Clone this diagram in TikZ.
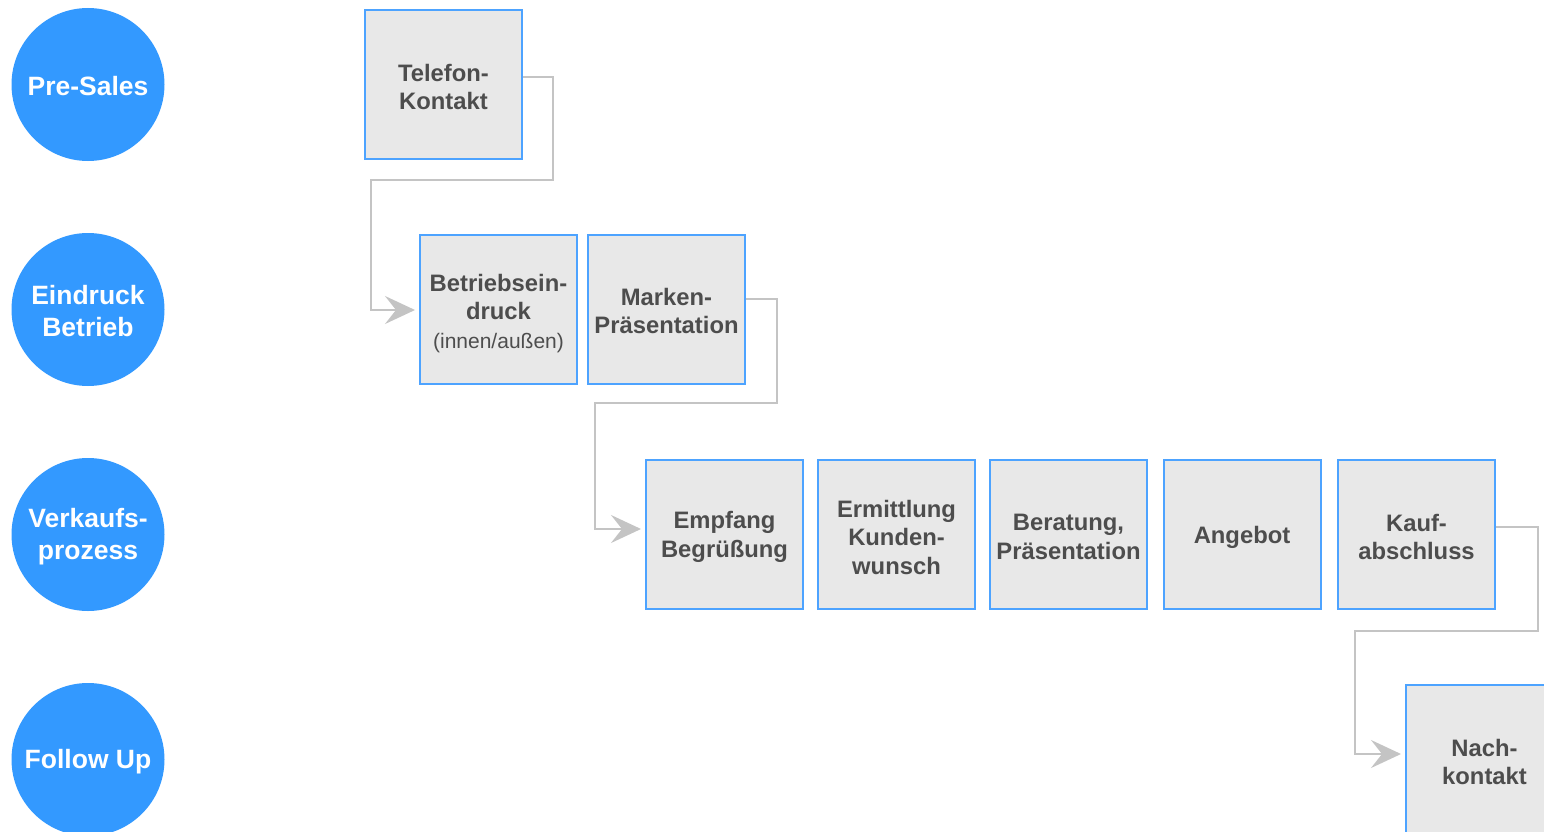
\documentclass[tikz,border=0pt]{standalone}
\usepackage{fontspec}
\setmainfont{Liberation Sans}
\usetikzlibrary{arrows.meta,calc}
\definecolor{cblue}{HTML}{3399FF}
\definecolor{bblue}{HTML}{4DA3FF}
\definecolor{bfill}{HTML}{E8E8E8}
\definecolor{tgray}{HTML}{4D4D4D}
\definecolor{lgray}{HTML}{C4C4C4}
\tikzset{
  phase/.style={circle, fill=cblue, draw=none, minimum size=153pt, inner sep=0pt},
  phasetext/.style={text=white, align=center, inner sep=0pt, yshift=-2pt,
    font=\fontsize{26.5}{32}\selectfont\bfseries},
  stepbox/.style={rectangle, fill=bfill, draw=bblue, line width=2pt, minimum width=157pt, minimum height=149pt,
    inner sep=0pt},
  boxtext/.style={text=tgray, align=center, inner sep=0pt, yshift=-2.5pt,
    font=\fontsize{23.8}{28.5}\selectfont\bfseries},
  conn/.style={draw=lgray, line width=2pt, -{Stealth[length=30pt,width=28pt,inset=11pt]}, shorten >=4pt}
}
\begin{document}
\begin{tikzpicture}[x=1pt,y=-1pt]
\useasboundingbox (0,0) rectangle (1544,832);
% phases
\node[phase, label={[phasetext]center:Pre-Sales}] (c1) at (88,84.5) {};
\node[phase, label={[phasetext]center:Eindruck\\Betrieb}] (c2) at (88,309.5) {};
\node[phase, label={[phasetext]center:Verkaufs-\\prozess}] (c3) at (88,534.5) {};
\node[phase, label={[phasetext]center:Follow Up}] (c4) at (88,759.5) {};
% boxes
\node[stepbox, label={[boxtext]center:Telefon-\\Kontakt}] (tel) at (443.5,84.5) {};
\node[stepbox, label={[boxtext, yshift=-1.5pt]center:Betriebsein-\\druck\\{\fontsize{21}{28.5}\selectfont\mdseries (innen/außen)}}] (bet) at (498.5,309.5) {};
\node[stepbox, label={[boxtext, yshift=1pt]center:Marken-\\Präsentation}] (mar) at (666.5,309.5) {};
\node[stepbox, label={[boxtext]center:Empfang\\Begrüßung}] (emp) at (724.5,534.5) {};
\node[stepbox, label={[boxtext]center:Ermittlung\\Kunden-\\wunsch}] (erm) at (896.5,534.5) {};
\node[stepbox, label={[boxtext]center:Beratung,\\Präsentation}] (ber) at (1068.5,534.5) {};
\node[stepbox, label={[boxtext]center:Angebot}] (ang) at (1242,534.5) {};
\node[stepbox, label={[boxtext]center:Kauf-\\abschluss}] (kau) at (1416.5,534.5) {};
\node[stepbox, label={[boxtext]center:Nach-\\kontakt}] (nac) at (1484.5,759.5) {};
% connectors
\coordinate (a1) at (553,77);
\coordinate (a2) at (553,180);
\coordinate (a3) at (371,180);
\coordinate (a4) at (371,310);
\draw[conn] (tel.east |- a1) -- (a1) -- (a2) -- (a3) -- (a4) -- (bet.west |- a4);
\coordinate (b1) at (777,299);
\coordinate (b2) at (777,403);
\coordinate (b3) at (595,403);
\coordinate (b4) at (595,529);
\draw[conn] (mar.east |- b1) -- (b1) -- (b2) -- (b3) -- (b4) -- (emp.west |- b4);
\coordinate (k1) at (1538,527);
\coordinate (k2) at (1538,631);
\coordinate (k3) at (1355,631);
\coordinate (k4) at (1355,754);
\draw[conn] (kau.east |- k1) -- (k1) -- (k2) -- (k3) -- (k4) -- (nac.west |- k4);
\end{tikzpicture}
\end{document}
